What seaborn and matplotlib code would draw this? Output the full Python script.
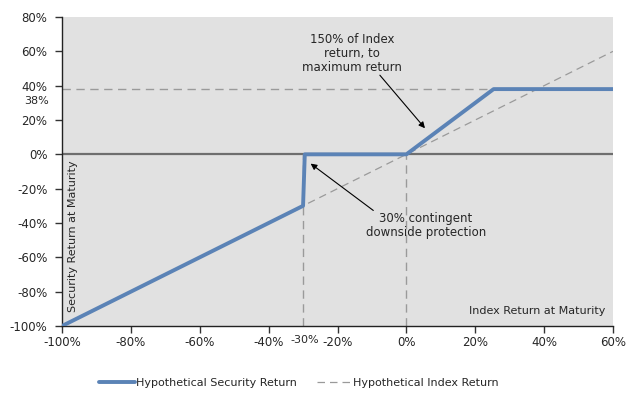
import pandas as pd
import seaborn as sns
import matplotlib
matplotlib.use('Agg')
import matplotlib.pyplot as plt

# index return (%) and the resulting hypothetical security return (%)
security_x = [-100, -30, -29.5, 0, 25.33, 60]
security_y = [-100, -30, 0, 0, 38, 38]
index_x = [-100, 60]
index_y = [-100, 60]

cap = 38
barrier = -30
x_ticks = [-100, -80, -60, -40, -20, 0, 20, 40, 60]
y_ticks = [-100, -80, -60, -40, -20, 0, 20, 40, 60, 80]

blue = '#5B83B6'
grey_dash = '#9A9A9A'
dash = (0, (6, 4))
arrow = dict(arrowstyle='-|>', color='black', lw=0.8, mutation_scale=9,
             shrinkA=0, shrinkB=0)


def main():
    sns.set_style('white')
    plt.rcParams['font.family'] = ['DejaVu Sans']
    plt.rcParams['font.size'] = 8

    fig = plt.figure(figsize=(6.31, 3.97), dpi=100)
    ax = fig.add_axes([62 / 631, 1 - 326 / 397, 551 / 631, 309 / 397])
    ax.set_facecolor('#E1E1E1')

    sec = pd.DataFrame({'x': security_x, 'y': security_y})
    idx = pd.DataFrame({'x': index_x, 'y': index_y})

    # reference lines
    ax.axhline(cap, color=grey_dash, lw=1.0, ls=dash, zorder=1)
    ax.axhline(0, color='#6E6E6E', lw=1.6, zorder=1)
    ax.plot([barrier, barrier], [-100, 0], color=grey_dash, lw=1.0, ls=dash, zorder=1)
    ax.plot([0, 0], [-100, 0], color=grey_dash, lw=1.0, ls=dash, zorder=1)

    sns.lineplot(data=idx, x='x', y='y', ax=ax, color=grey_dash, lw=0.9,
                 linestyle=dash, label='Hypothetical Index Return', zorder=2,
                 sort=False)
    sns.lineplot(data=sec, x='x', y='y', ax=ax, color=blue, lw=2.8,
                 label='Hypothetical Security Return', zorder=3, sort=False)

    ax.set_xlim(-100, 60)
    ax.set_ylim(-100, 80)
    ax.set_xticks(x_ticks)
    ax.set_yticks(y_ticks)
    ax.set_xticklabels([f'{t}%' for t in x_ticks], fontsize=8.5)
    ax.set_yticklabels([f'{t}%' for t in y_ticks], fontsize=8.5)
    ax.tick_params(axis='both', direction='out', length=5, width=1, color='#333333',
                   left=True, bottom=True)
    ax.tick_params(axis='x', pad=2.5)
    ax.tick_params(axis='y', pad=5.5)
    ax.set_xlabel('')
    ax.set_ylabel('')
    for s in ['top', 'right']:
        ax.spines[s].set_visible(False)
    for s in ['left', 'bottom']:
        ax.spines[s].set_color('#222222')
        ax.spines[s].set_linewidth(1.0)

    # extra labels for the cap and barrier levels
    ax.text(-103.8, cap - 6.8, f'{cap}%', ha='right', va='center', fontsize=8)
    ax.text(barrier + 0.5, -0.045, f'{barrier}%', ha='center', va='center', fontsize=8,
            transform=ax.get_xaxis_transform())

    # axis titles drawn inside the plot area
    ax.text(-98.3, -92, 'Security Return at Maturity', rotation=90, ha='left',
            va='bottom', fontsize=8)
    ax.text(57.8, -94, 'Index Return at Maturity', ha='right', va='bottom', fontsize=8)

    # annotations
    ax.text(-15.8, 58.9, '150% of Index\nreturn, to\nmaximum return', ha='center',
            va='center', fontsize=8.5, linespacing=1.1)
    ax.annotate('', xy=(5.4, 15.2), xytext=(-7.7, 46.1), arrowprops=arrow)
    ax.text(5.7, -41.7, '30% contingent\ndownside protection', ha='center',
            va='center', fontsize=8.5, linespacing=1.1)
    ax.annotate('', xy=(-27.8, -5.4), xytext=(-9.6, -32.7), arrowprops=arrow)

    handles, labels = ax.get_legend_handles_labels()
    ax.legend(handles[::-1], labels[::-1], loc='center', bbox_to_anchor=(0.43, -0.185),
              ncol=2, frameon=False, fontsize=8, handlelength=3.2,
              handletextpad=0.1, columnspacing=1.8)

    fig.savefig('out.png', dpi=100)


if __name__ == "__main__":
    main()
